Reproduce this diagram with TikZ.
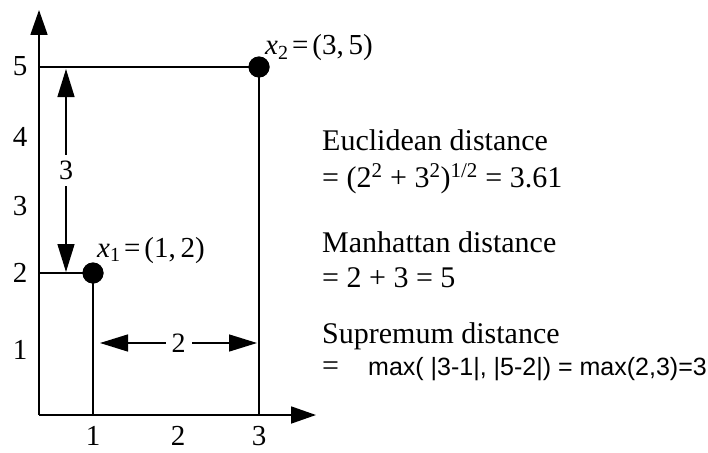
\documentclass[tikz,border=0pt]{standalone}
\usepackage{fontspec}
\setmainfont{Liberation Serif}
\newfontfamily\arialf{Liberation Sans}
\usetikzlibrary{arrows.meta}
\begin{document}
\begin{tikzpicture}[x=1pt,y=-1pt,
  axis/.style={line width=1.8pt,-{Triangle[length=25pt,width=17pt]}},
  guide/.style={line width=1.4pt},
  dim/.style={line width=1.4pt,{Triangle[length=28pt,width=17pt]}-{Triangle[length=28pt,width=17pt]}},
  dot/.style={circle,fill=black,minimum size=21pt,inner sep=0pt},
  tick/.style={font=\fontsize{29}{34}\selectfont,inner sep=0pt},
  lbl/.style={font=\fontsize{29}{34}\selectfont,anchor=base west,inner sep=0pt},
  txt/.style={font=\fontsize{30}{36}\selectfont,anchor=base west,inner sep=0pt},
  dimlbl/.style={fill=white,font=\fontsize{28}{33}\selectfont,inner xsep=4pt,inner ysep=6pt}
]
\useasboundingbox (0,0) rectangle (708,452);
% axes
\coordinate (O) at (39,415);
\coordinate (ytip) at (39,10);
\coordinate (xtip) at (316,415);
\coordinate (y5) at (39,67);
\coordinate (y2) at (39,273);
\coordinate (x1) at (93,415);
\coordinate (x3) at (259,415);
\draw[axis] (O) -- (ytip);
\draw[axis] (O) -- (xtip);
% points
\node[dot] (p1) at (93,273) {};
\node[dot] (p2) at (259,67) {};
\draw[guide] (y5) -- (p2.center) -- (x3);
\draw[guide] (y2) -- (p1.center) -- (x1);
\node[dot] at (p1) {};
\node[dot] at (p2) {};
% tick labels
\node[tick] (t5) at (20,66) {5};
\node[tick] (t4) at (20,137) {4};
\node[tick] (t3) at (20,206) {3};
\node[tick] (t2) at (20,273) {2};
\node[tick] (t1) at (20,350) {1};
\node[tick] (u1) at (93,436) {1};
\node[tick] (u2) at (178,436) {2};
\node[tick] (u3) at (259,436) {3};
% dimension arrows
\coordinate (va) at (66,69);
\coordinate (vb) at (66,272);
\draw[dim] (va) -- node[dimlbl] (d3) {3} (vb);
\coordinate (ha) at (100,343);
\coordinate (hb) at (257,343);
\draw[dim] (ha) -- node[dimlbl,inner xsep=6pt] (d2) {2} (hb);
% point labels
\node[lbl] (l1) at (97,257) {\textit{x}\raisebox{-0.35ex}{\fontsize{20}{24}\selectfont 1}\kern4pt=\kern4pt(1,\,2)};
\node[lbl] (l2) at (265,55) {\textit{x}\raisebox{-0.35ex}{\fontsize{20}{24}\selectfont 2}\kern4pt=\kern4pt(3,\,5)};
% text
\node[txt] (e1) at (322,150) {Euclidean distance};
\node[txt] (e2) at (322,187) {= (2\textsuperscript{2} + 3\textsuperscript{2})\textsuperscript{1/2} = 3.61};
\node[txt] (m1) at (322,252) {Manhattan distance};
\node[txt] (m2) at (322,287) {= 2 + 3 = 5};
\node[txt] (s1) at (322,343) {Supremum distance};
\node[txt] (s2) at (322,375) {=};
\node[anchor=base west,inner sep=0pt,font=\arialf\fontsize{25}{30}\selectfont] (s3) at (368,375) {max( |3-1|, |5-2|) = max(2,3)=3};
\end{tikzpicture}
\end{document}
